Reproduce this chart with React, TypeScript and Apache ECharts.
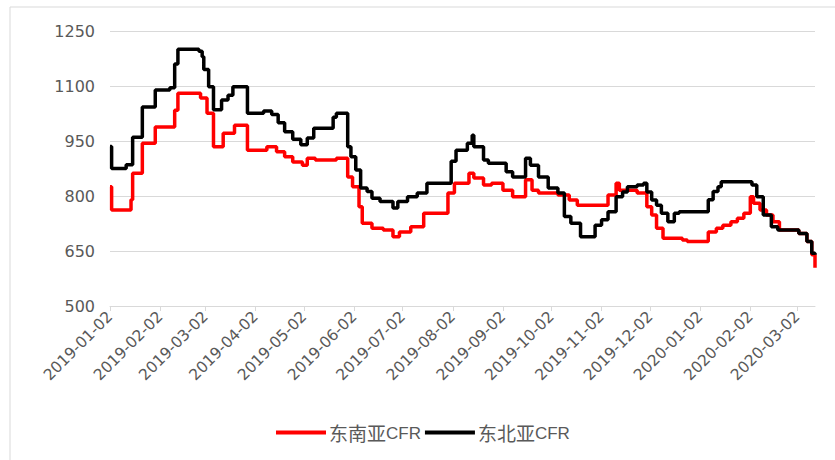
import React, { useEffect, useRef } from "react";
import * as echarts from "echarts";

const startDate = "2019-01-02";
const endDate = "2020-03-13";

const seriesNames = ["东南亚CFR", "东北亚CFR"];
const seriesColors = ["#ff0000", "#000000"];

// 东南亚CFR: [date, value] change points
const seAsia: [string, number][] = [
  ["2019-01-02", 825], ["2019-01-03", 762], ["2019-01-15", 790], ["2019-01-16", 862],
  ["2019-01-22", 944], ["2019-01-30", 988], ["2019-02-11", 1034], ["2019-02-13", 1080],
  ["2019-02-27", 1067], ["2019-03-03", 1026], ["2019-03-07", 934], ["2019-03-13", 971],
  ["2019-03-20", 993], ["2019-03-28", 925], ["2019-04-09", 934], ["2019-04-15", 921],
  ["2019-04-20", 907], ["2019-04-25", 893], ["2019-05-01", 884], ["2019-05-04", 903],
  ["2019-05-09", 898], ["2019-05-22", 903], ["2019-05-29", 852], ["2019-06-01", 825],
  ["2019-06-05", 771], ["2019-06-07", 726], ["2019-06-13", 712], ["2019-06-20", 707],
  ["2019-06-26", 689], ["2019-06-30", 702], ["2019-07-07", 716], ["2019-07-15", 753],
  ["2019-07-30", 808], ["2019-08-03", 835], ["2019-08-12", 862], ["2019-08-15", 849],
  ["2019-08-21", 830], ["2019-08-26", 835], ["2019-09-02", 816], ["2019-09-08", 798],
  ["2019-09-16", 844], ["2019-09-20", 816], ["2019-09-24", 808], ["2019-10-06", 803],
  ["2019-10-13", 789], ["2019-10-18", 775], ["2019-11-06", 803], ["2019-11-11", 835],
  ["2019-11-13", 816], ["2019-11-24", 808], ["2019-11-30", 771], ["2019-12-03", 748],
  ["2019-12-06", 712], ["2019-12-10", 685], ["2019-12-22", 680], ["2019-12-25", 676],
  ["2020-01-07", 702], ["2020-01-12", 712], ["2020-01-16", 720], ["2020-01-21", 730],
  ["2020-01-25", 739], ["2020-01-29", 753], ["2020-02-02", 798], ["2020-02-04", 780],
  ["2020-02-08", 762], ["2020-02-12", 748], ["2020-02-16", 730], ["2020-02-20", 707],
  ["2020-03-03", 698], ["2020-03-08", 676], ["2020-03-11", 640], ["2020-03-13", 604],
];

// 东北亚CFR: [date, value] change points
const neAsia: [string, number][] = [
  ["2019-01-02", 935], ["2019-01-03", 875], ["2019-01-12", 885], ["2019-01-16", 960],
  ["2019-01-22", 1043], ["2019-01-30", 1089], ["2019-02-08", 1095], ["2019-02-11", 1160],
  ["2019-02-13", 1200], ["2019-02-26", 1195], ["2019-02-28", 1180], ["2019-03-01", 1145],
  ["2019-03-04", 1098], ["2019-03-07", 1035], ["2019-03-12", 1062], ["2019-03-16", 1075],
  ["2019-03-19", 1098], ["2019-03-28", 1026], ["2019-04-07", 1032], ["2019-04-12", 1022],
  ["2019-04-16", 1000], ["2019-04-20", 975], ["2019-04-25", 955], ["2019-04-30", 940],
  ["2019-05-04", 958], ["2019-05-08", 985], ["2019-05-20", 1015], ["2019-05-22", 1026],
  ["2019-05-29", 934], ["2019-05-31", 907], ["2019-06-03", 871], ["2019-06-06", 822],
  ["2019-06-10", 812], ["2019-06-13", 794], ["2019-06-18", 785], ["2019-06-26", 767],
  ["2019-06-29", 785], ["2019-07-05", 798], ["2019-07-11", 808], ["2019-07-17", 835],
  ["2019-08-01", 895], ["2019-08-04", 925], ["2019-08-11", 944], ["2019-08-14", 966],
  ["2019-08-15", 934], ["2019-08-21", 898], ["2019-08-24", 889], ["2019-09-04", 866],
  ["2019-09-08", 852], ["2019-09-16", 903], ["2019-09-19", 884], ["2019-09-24", 852],
  ["2019-09-30", 822], ["2019-10-06", 808], ["2019-10-10", 744], ["2019-10-14", 726],
  ["2019-10-20", 689], ["2019-10-29", 720], ["2019-11-02", 735], ["2019-11-06", 757],
  ["2019-11-11", 798], ["2019-11-15", 811], ["2019-11-18", 825], ["2019-11-24", 830],
  ["2019-11-28", 835], ["2019-11-30", 811], ["2019-12-03", 789], ["2019-12-06", 775],
  ["2019-12-09", 753], ["2019-12-13", 730], ["2019-12-17", 753], ["2019-12-20", 757],
  ["2020-01-07", 790], ["2020-01-10", 812], ["2020-01-13", 825], ["2020-01-15", 839],
  ["2020-02-03", 830], ["2020-02-06", 798], ["2020-02-10", 748], ["2020-02-15", 716],
  ["2020-02-19", 707], ["2020-03-03", 698], ["2020-03-08", 676], ["2020-03-11", 644],
  ["2020-03-13", 640],
];

const yMin = 500;
const yMax = 1250;
const yInterval = 150;

function buildDays(from: string, to: string): string[] {
  const out: string[] = [];
  const d = new Date(from + "T00:00:00Z");
  const end = new Date(to + "T00:00:00Z").getTime();
  while (d.getTime() <= end) {
    out.push(d.toISOString().slice(0, 10));
    d.setUTCDate(d.getUTCDate() + 1);
  }
  return out;
}

export default function App() {
  const ref = useRef<HTMLDivElement>(null);
  useEffect(() => {
    if (!ref.current) return;
    const chart = echarts.init(ref.current, null, { renderer: "svg" });
    const days = buildDays(startDate, endDate);
    const isMonthMark = (_i: number, v: string) => v.slice(8) === "02";
    const font = "DejaVu Sans";
    chart.setOption({
      animation: false,
      backgroundColor: "#ffffff",
      graphic: [
        {
          type: "rect",
          shape: { x: 10, y: 7, width: 840, height: 470 },
          style: { fill: "none", stroke: "#d9d9d9", lineWidth: 1 },
          silent: true,
        },
      ],
      grid: { left: 110, right: 20, top: 31, bottom: 154, containLabel: false },
      legend: {
        data: seriesNames,
        left: 271,
        top: 418,
        icon: "rect",
        itemWidth: 50,
        itemHeight: 4,
        itemGap: 4,
        selectedMode: false,
        formatter: (name: string) => `{a|${name.replace("CFR", "")}}{b|CFR}`,
        textStyle: {
          padding: [0, 0, 0, -2],
          rich: {
            a: { fontSize: 19, fontFamily: "Noto Sans CJK SC", color: "#595959" },
            b: { fontSize: 17, fontFamily: "Liberation Sans", color: "#595959", padding: [2, 0, 0, 0] },
          },
        },
      },
      xAxis: {
        type: "category",
        data: days,
        boundaryGap: false,
        axisLine: { lineStyle: { color: "#d9d9d9", width: 1 } },
        axisTick: { show: true, interval: isMonthMark, length: 5, lineStyle: { color: "#d9d9d9" } },
        axisLabel: {
          interval: isMonthMark,
          rotate: 45,
          fontSize: 15.5,
          fontFamily: font,
          color: "#595959",
          margin: 8,
        },
        splitLine: { show: false },
      },
      yAxis: {
        type: "value",
        min: yMin,
        max: yMax,
        interval: yInterval,
        axisLine: { show: false },
        axisTick: { show: false },
        axisLabel: {
          fontSize: 16,
          fontFamily: font,
          color: "#595959",
          margin: 15,
          formatter: (v: number) => String(v),
        },
        splitLine: { lineStyle: { color: "#d9d9d9", width: 1 } },
      },
      series: [
        {
          name: seriesNames[0],
          type: "line",
          step: "end",
          data: seAsia,
          showSymbol: false,
          color: seriesColors[0],
          lineStyle: { width: 3.5, color: seriesColors[0] },
          z: 2,
        },
        {
          name: seriesNames[1],
          type: "line",
          step: "end",
          data: neAsia,
          showSymbol: false,
          color: seriesColors[1],
          lineStyle: { width: 3.5, color: seriesColors[1] },
          z: 3,
        },
      ],
    });
    return () => chart.dispose();
  }, []);
  return (
    <div
      ref={ref}
      style={{ position: "fixed", left: 0, top: 0, width: 835, height: 460, background: "#fff" }}
    />
  );
}
